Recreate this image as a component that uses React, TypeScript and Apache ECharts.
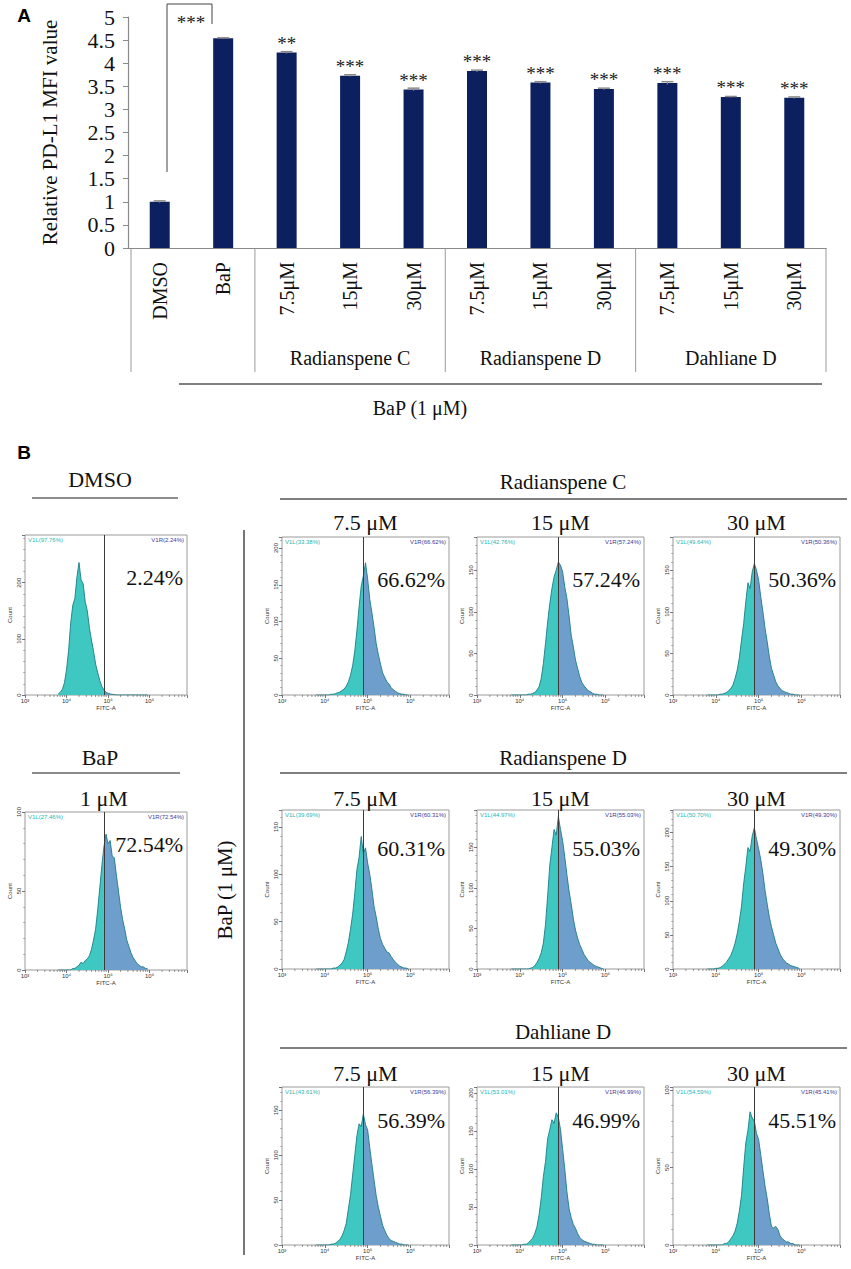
import React, { useEffect, useRef } from 'react';
import * as echarts from 'echarts';

const SERIF = "'Liberation Serif', 'Times New Roman', Times, serif";
const SANS = "'Liberation Sans', Arial, Helvetica, sans-serif";

// ---------------- Panel A data ----------------
const CATEGORIES = ['DMSO', 'BaP', '7.5μM', '15μM', '30μM', '7.5μM', '15μM', '30μM', '7.5μM', '15μM', '30μM'];
const MFI_VALUES = [1.0, 4.54, 4.23, 3.73, 3.43, 3.83, 3.58, 3.44, 3.57, 3.27, 3.25];
const MFI_ERRORS = [0.02, 0.01, 0.02, 0.02, 0.03, 0.02, 0.02, 0.02, 0.03, 0.01, 0.02];
const MFI_STARS = ['', '', '**', '***', '***', '***', '***', '***', '***', '***', '***'];
const GROUP_LABELS = ['Radianspene C', 'Radianspene D', 'Dahliane D'];
const BRACKET_STARS = '***';
const TREATMENT_LABEL = 'BaP (1 μM)';

// ---------------- Panel B data ----------------
const LOG_BINS = [3.80, 3.85, 3.90, 3.95, 4.00, 4.05, 4.10, 4.15, 4.20, 4.25, 4.30, 4.35, 4.40, 4.45, 4.50, 4.55, 4.60, 4.65, 4.70, 4.75, 4.80, 4.85, 4.90, 4.95, 5.00, 5.05, 5.10, 5.15, 5.20, 5.25, 5.30, 5.35, 5.40, 5.45, 5.50, 5.55, 5.60, 5.65, 5.70, 5.75, 5.80, 5.85, 5.90, 5.95];
const GATE = 4.9;
const X_TICK_LABELS: Record<number, string> = { 3: '10³', 4: '10⁴', 5: '10⁵', 6: '10⁶' };

const H_DMSO = [2, 5, 10, 22, 45, 80, 128, 160, 172, 210, 236, 205, 198, 166, 150, 120, 98, 78, 55, 40, 26, 15, 9, 5, 3, 2, 1, 1, 0, 0, 0, 0, 0, 0, 0, 0, 0, 0, 0, 0, 0, 0, 0, 0];
const H_BAP = [0, 0, 0, 0, 0, 0, 0, 1, 1, 2, 3, 5, 4, 6, 7, 9, 13, 19, 26, 38, 52, 66, 78, 86, 80, 82, 72, 71, 60, 50, 40, 32, 26, 19, 15, 11, 8, 6, 4, 3, 2, 2, 1, 1];
const H_RC75 = [0, 0, 0, 0, 0, 0, 0, 1, 1, 2, 3, 4, 6, 8, 12, 18, 27, 40, 60, 88, 120, 148, 162, 180, 158, 130, 112, 92, 70, 55, 42, 30, 24, 18, 15, 10, 7, 5, 3, 2, 1, 1, 0, 0];
const H_RC15 = [0, 0, 0, 0, 0, 0, 0, 0, 1, 1, 2, 3, 6, 10, 20, 38, 62, 88, 110, 128, 142, 150, 160, 156, 148, 130, 116, 95, 72, 58, 42, 32, 22, 15, 11, 8, 5, 4, 2, 1, 1, 0, 0, 0];
const H_RC30 = [0, 0, 0, 0, 0, 0, 1, 1, 2, 3, 5, 8, 12, 20, 30, 45, 66, 86, 112, 135, 128, 148, 158, 150, 138, 118, 100, 80, 64, 46, 32, 24, 16, 11, 8, 5, 4, 3, 2, 1, 1, 0, 0, 0];
const H_RD75 = [0, 0, 0, 0, 0, 0, 0, 0, 1, 1, 2, 4, 6, 10, 18, 28, 42, 58, 80, 105, 118, 140, 122, 128, 112, 100, 84, 66, 55, 42, 32, 26, 22, 18, 17, 13, 10, 7, 5, 3, 2, 1, 1, 0];
const H_RD15 = [0, 0, 0, 0, 0, 0, 0, 0, 0, 1, 2, 4, 8, 13, 20, 32, 55, 90, 128, 150, 172, 165, 188, 172, 158, 138, 116, 96, 80, 62, 48, 38, 30, 24, 18, 14, 10, 8, 6, 4, 3, 2, 1, 0];
const H_RD30 = [0, 0, 0, 0, 1, 1, 2, 4, 7, 10, 15, 20, 28, 38, 52, 70, 92, 125, 150, 178, 172, 195, 207, 190, 176, 160, 140, 115, 95, 76, 62, 50, 38, 30, 22, 16, 12, 9, 7, 5, 4, 3, 2, 1];
const H_DD75 = [0, 0, 0, 0, 0, 0, 0, 1, 1, 2, 4, 6, 10, 16, 24, 40, 56, 78, 100, 122, 135, 132, 146, 134, 128, 108, 90, 72, 55, 42, 32, 22, 16, 11, 7, 5, 4, 3, 2, 1, 1, 0, 0, 0];
const H_DD15 = [0, 0, 0, 0, 0, 0, 1, 1, 3, 6, 9, 15, 24, 40, 62, 90, 110, 140, 152, 165, 160, 174, 168, 152, 126, 100, 70, 48, 36, 27, 22, 15, 10, 7, 5, 4, 3, 2, 1, 1, 0, 0, 0, 0];
const H_DD30 = [0, 0, 0, 0, 0, 0, 0, 0, 1, 1, 2, 4, 6, 9, 14, 22, 32, 50, 66, 74, 86, 82, 80, 72, 68, 58, 48, 38, 30, 20, 12, 11, 12, 10, 6, 4, 3, 2, 2, 1, 1, 0, 0, 0];

const HIST_COUNTS = [H_DMSO, H_BAP, H_RC75, H_RC15, H_RC30, H_RD75, H_RD15, H_RD30, H_DD75, H_DD15, H_DD30];
const HIST_YMAX = [285, 100, 215, 190, 190, 168, 196, 233, 176, 208, 102];
const HIST_YSTEP = [100, 50, 50, 50, 50, 50, 50, 50, 50, 50, 50];
const V1L_LABELS = ['V1L(97.76%)', 'V1L(27.46%)', 'V1L(33.38%)', 'V1L(42.76%)', 'V1L(49.64%)', 'V1L(39.69%)', 'V1L(44.97%)', 'V1L(50.70%)', 'V1L(43.61%)', 'V1L(53.01%)', 'V1L(54.59%)'];
const V1R_LABELS = ['V1R(2.24%)', 'V1R(72.54%)', 'V1R(66.62%)', 'V1R(57.24%)', 'V1R(50.36%)', 'V1R(60.31%)', 'V1R(55.03%)', 'V1R(49.30%)', 'V1R(56.39%)', 'V1R(46.99%)', 'V1R(45.41%)'];
const BIG_PCT = ['2.24%', '72.54%', '66.62%', '57.24%', '50.36%', '60.31%', '55.03%', '49.30%', '56.39%', '46.99%', '45.51%'];
const LEFT_TITLES = ['DMSO', 'BaP'];
const BAP_DOSE = '1 μM';
const ROW_TITLES = ['Radianspene C', 'Radianspene D', 'Dahliane D'];
const DOSES = ['7.5 μM', '15 μM', '30 μM'];

// ---------------- Layout (positions / sizes) ----------------
const BAR_GRID = { left: 128, top: 17, width: 698, height: 231 };
const HIST_BOXES = [
  { x: 25, y: 535, w: 162, h: 160 },
  { x: 25, y: 812, w: 162, h: 158 },
  { x: 282, y: 537, w: 167, h: 158 }, { x: 477, y: 537, w: 167, h: 158 }, { x: 673, y: 537, w: 167, h: 158 },
  { x: 282, y: 810, w: 167, h: 159 }, { x: 477, y: 810, w: 167, h: 159 }, { x: 673, y: 810, w: 167, h: 159 },
  { x: 282, y: 1087, w: 167, h: 158 }, { x: 477, y: 1087, w: 167, h: 158 }, { x: 673, y: 1087, w: 167, h: 158 },
];
const PCT_DY = [42, 32, 42, 42, 42, 38, 38, 38, 33, 33, 33];
const ROW_TITLE_Y = [482, 758, 1032];
const ROW_LINE_Y = [499, 773, 1048];
const ROW_DOSE_Y = [522, 798, 1073];

const CYAN = '#3fc7c2';
const BLUE = '#6e9ecb';
const OUTLINE = '#1d7d87';
const NAVY = '#0c205f';

function text(x: number, y: number, t: string, size: number, extra: any = {}, el: any = {}) {
  return {
    type: 'text', x, y, silent: true, ...el,
    style: {
      text: t, fontSize: size, fontFamily: SERIF, fill: '#111',
      align: 'center', verticalAlign: 'middle', ...extra,
    },
  };
}
function line(x1: number, y1: number, x2: number, y2: number, stroke = '#666', w = 1.2) {
  return { type: 'line', silent: true, shape: { x1, y1, x2, y2 }, style: { stroke, lineWidth: w } };
}

function buildOption() {
  const grid: any[] = [{ ...BAR_GRID }];
  const xAxis: any[] = [{
    type: 'category', gridIndex: 0, data: CATEGORIES,
    axisLine: { lineStyle: { color: '#8a8a8a', width: 1.2 } },
    axisTick: { show: false },
    axisLabel: { rotate: 90, margin: 14, fontSize: 20, fontFamily: SERIF, color: '#111', interval: 0 },
  }];
  const yAxis: any[] = [{
    type: 'value', gridIndex: 0, min: 0, max: 5, interval: 0.5,
    name: 'Relative PD-L1 MFI value', nameLocation: 'middle', nameGap: 68,
    nameTextStyle: { fontSize: 21, fontFamily: SERIF, color: '#111' },
    axisLine: { show: true, lineStyle: { color: '#8a8a8a', width: 1.2 } },
    axisTick: { show: true, length: 5, lineStyle: { color: '#8a8a8a' } },
    axisLabel: { fontSize: 22, fontFamily: SERIF, color: '#111', margin: 13, showMinLabel: true, showMaxLabel: true, lineHeight: 22 },
    splitLine: { show: false },
  }];
  const series: any[] = [
    {
      type: 'bar', xAxisIndex: 0, yAxisIndex: 0, data: MFI_VALUES, barWidth: 20,
      itemStyle: { color: NAVY },
      label: {
        show: true, position: 'top', distance: 0, fontSize: 19, fontFamily: SERIF, color: '#222',
        formatter: (p: any) => MFI_STARS[p.dataIndex],
      },
      z: 2,
    },
    {
      type: 'custom', coordinateSystem: 'cartesian2d', xAxisIndex: 0, yAxisIndex: 0,
      data: MFI_VALUES.map((v, i) => [i, v, MFI_ERRORS[i]]),
      renderItem: (params: any, api: any) => {
        const i = api.value(0), v = api.value(1), e = api.value(2);
        const top = api.coord([i, v + e]);
        const bot = api.coord([i, v - e]);
        return {
          type: 'group', children: [
            { type: 'line', shape: { x1: top[0], y1: top[1], x2: bot[0], y2: bot[1] }, style: { stroke: '#8a8a8a', lineWidth: 1 } },
            { type: 'line', shape: { x1: top[0] - 6, y1: top[1], x2: top[0] + 6, y2: top[1] }, style: { stroke: '#8a8a8a', lineWidth: 1.5 } },
          ],
        };
      },
      z: 3,
    },
  ];
  const graphic: any[] = [];

  const minorTicks: number[] = [];
  [3, 4, 5, 6].forEach((d) => [2, 3, 4, 5, 6, 7, 8, 9].forEach((k) => {
    const v = d + Math.log10(k);
    if (v < 6.9) minorTicks.push(v);
  }));

  HIST_COUNTS.forEach((counts, k) => {
    const b = HIST_BOXES[k];
    const gi = k + 1;
    const step = HIST_YSTEP[k];
    grid.push({ left: b.x, top: b.y, width: b.w, height: b.h, show: true, borderColor: '#9a9a9a', borderWidth: 1, backgroundColor: 'transparent' });
    xAxis.push({
      type: 'value', gridIndex: gi, min: 3, max: 6.9, interval: 1,
      name: 'FITC-A', nameLocation: 'middle', nameGap: 10,
      nameTextStyle: { fontSize: 6, fontFamily: SANS, color: '#333' },
      axisLine: { show: false },
      axisTick: { show: true, length: 3, lineStyle: { color: '#555', width: 0.8 } },
      axisLabel: { fontSize: 6, fontFamily: SANS, color: '#333', margin: 3, formatter: (v: number) => X_TICK_LABELS[v] || '' },
      splitLine: { show: false },
    });
    yAxis.push({
      type: 'value', gridIndex: gi, min: 0, max: HIST_YMAX[k], interval: step,
      name: 'Count', nameLocation: 'middle', nameGap: 12,
      nameTextStyle: { fontSize: 6, fontFamily: SANS, color: '#333' },
      axisLine: { show: false },
      axisTick: { show: true, length: 3, lineStyle: { color: '#555', width: 0.8 } },
      minorTick: { show: true, splitNumber: 5, length: 1.8, lineStyle: { color: '#777', width: 0.6 } },
      axisLabel: { rotate: 90, fontSize: 6, fontFamily: SANS, color: '#333', margin: 3, formatter: (v: number) => (v % step === 0 ? String(v) : '') },
      splitLine: { show: false },
    });
    const data = LOG_BINS.map((x, i) => [x, counts[i]]);
    const leftData = data.filter((d) => d[0] <= GATE);
    const rightData = data.filter((d) => d[0] >= GATE);
    series.push({
      type: 'line', xAxisIndex: gi, yAxisIndex: gi, data: leftData, symbol: 'none', silent: true,
      lineStyle: { width: 0 }, itemStyle: { color: CYAN }, areaStyle: { color: CYAN, opacity: 1 }, z: 2,
    });
    series.push({
      type: 'line', xAxisIndex: gi, yAxisIndex: gi, data: rightData, symbol: 'none', silent: true,
      lineStyle: { width: 0 }, itemStyle: { color: BLUE }, areaStyle: { color: BLUE, opacity: 1 }, z: 2,
    });
    series.push({
      type: 'line', xAxisIndex: gi, yAxisIndex: gi, data, symbol: 'none', silent: true,
      lineStyle: { width: 0.9, color: OUTLINE }, itemStyle: { color: OUTLINE }, z: 3,
      markLine: {
        silent: true, symbol: ['none', 'none'], label: { show: false },
        lineStyle: { color: '#3a3a3a', width: 1, type: 'solid' },
        data: [{ xAxis: GATE }],
      },
    });
    series.push({
      type: 'custom', coordinateSystem: 'cartesian2d', xAxisIndex: gi, yAxisIndex: gi, silent: true,
      data: minorTicks.map((v) => [v, 0]),
      renderItem: (params: any, api: any) => {
        const p = api.coord([api.value(0), 0]);
        return { type: 'line', shape: { x1: p[0], y1: p[1], x2: p[0], y2: p[1] + 2 }, style: { stroke: '#555', lineWidth: 0.6 } };
      },
      z: 4,
    });
    graphic.push(text(b.x + 3, b.y + 5, V1L_LABELS[k], 6, { fontFamily: SANS, fill: '#1fb5b5', align: 'left' }));
    graphic.push(text(b.x + b.w - 3, b.y + 5, V1R_LABELS[k], 6, { fontFamily: SANS, fill: '#3b3b98', align: 'right' }));
    graphic.push(text(b.x + b.w - 4, b.y + PCT_DY[k], BIG_PCT[k], 22, { align: 'right' }));
  });

  // Panel A decorations
  graphic.push(text(24, 15, 'A', 19, { fontFamily: SANS, fontWeight: 'bold', fill: '#000' }));
  graphic.push({ type: 'polyline', silent: true, shape: { points: [[167, 172], [167, 4], [212, 4], [212, 24]] }, style: { stroke: '#444', fill: 'none', lineWidth: 1 } });
  graphic.push(text(191, 22, BRACKET_STARS, 19, { fill: '#222' }));
  const unit = BAR_GRID.width / CATEGORIES.length;
  const tblTop = BAR_GRID.top + BAR_GRID.height;
  [131, BAR_GRID.left + 2 * unit, BAR_GRID.left + 5 * unit, BAR_GRID.left + 8 * unit, BAR_GRID.left + 11 * unit].forEach((x) => {
    graphic.push(line(x, tblTop, x, 372, '#9a9a9a', 1));
  });
  GROUP_LABELS.forEach((g, i) => {
    const cx = BAR_GRID.left + (2 + 3 * i + 1.5) * unit;
    graphic.push(text(cx, 358, g, 20));
  });
  graphic.push(line(179, 384, 822, 384, '#555', 1.5));
  graphic.push(text(420, 408, TREATMENT_LABEL, 20));

  // Panel B decorations
  graphic.push(text(24, 452, 'B', 19, { fontFamily: SANS, fontWeight: 'bold', fill: '#000' }));
  graphic.push(text(100, 479, LEFT_TITLES[0], 22));
  graphic.push(line(32, 498, 178, 498, '#666', 1.5));
  graphic.push(text(100, 757, LEFT_TITLES[1], 22));
  graphic.push(line(32, 773, 180, 773, '#666', 1.5));
  graphic.push(text(104, 798, BAP_DOSE, 22));
  graphic.push(line(244, 530, 244, 1255, '#777', 2));
  graphic.push(text(225, 890, TREATMENT_LABEL, 21, {}, { rotation: Math.PI / 2 }));
  ROW_TITLES.forEach((t, r) => {
    graphic.push(text(563, ROW_TITLE_Y[r], t, 21));
    graphic.push(line(280, ROW_LINE_Y[r], 847, ROW_LINE_Y[r], '#555', 1.5));
    DOSES.forEach((d, c) => {
      const b = HIST_BOXES[2 + r * 3 + c];
      graphic.push(text(b.x + b.w / 2, ROW_DOSE_Y[r], d, 22));
    });
  });

  return {
    animation: false,
    backgroundColor: '#ffffff',
    grid, xAxis, yAxis, series, graphic,
  };
}

export default function App() {
  const ref = useRef<HTMLDivElement>(null);
  useEffect(() => {
    document.body.style.margin = '0';
    const chart = echarts.init(ref.current as HTMLDivElement, null, { renderer: 'svg' });
    chart.setOption(buildOption() as any);
    return () => chart.dispose();
  }, []);
  return <div ref={ref} style={{ width: 851, height: 1269, background: '#fff' }} />;
}
